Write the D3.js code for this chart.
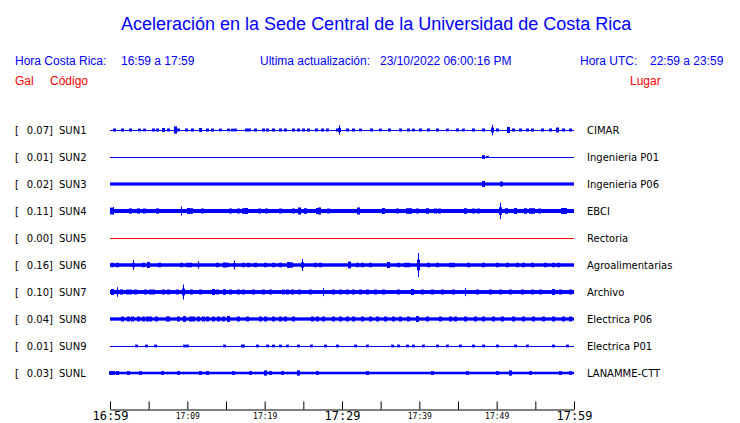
<!DOCTYPE html>
<html><head><meta charset="utf-8">
<script src="https://cdn.jsdelivr.net/npm/d3@7"></script>
<style>
html,body{margin:0;padding:0;background:#fff;}
svg{display:block;}
</style></head>
<body>
<svg id="chart" width="740" height="423"></svg>
<script>
// ---------- data ----------
const codes = ["SUN1","SUN2","SUN3","SUN4","SUN5","SUN6","SUN7","SUN8","SUN9","SUNL"];
const places = ["CIMAR","Ingenieria P01","Ingenieria P06","EBCI","Rectoria","Agroalimentarias","Archivo","Electrica P06","Electrica P01","LANAMME-CTT"];
const peakGal = [0.07,0.01,0.02,0.11,0.00,0.16,0.10,0.04,0.01,0.03];
// background noise half-amplitude (Gal) of each trace
const noiseGal = [0,0,0.021,0.027,0,0.023,0.026,0.022,0,0.017];
const tickMinutes = [0,5,10,15,20,25,30,35,40,45,50,55,60];
const tickLabels = ["16:59","","17:09","","17:19","","17:29","","17:39","","17:49","","17:59"];
const majorTicks = ["16:59","17:29","17:59"];

// bursts: [minutes after 16:59, half amplitude in Gal]
const burstsSUN1 = [[0.5,.02],[1.6,.02],[2.6,.02],[3.8,.018],[4.4,.018],[5.6,.02],[6.1,.02],[6.9,.027],[7.5,.02],[8.4,.048],[8.8,.02],[9.8,.02],[10.6,.02],[11.6,.027],[12.5,.02],[13.2,.02],[14.2,.018],[15.3,.018],[15.8,.018],[16.2,.018],[17.6,.02],[18.0,.02],[18.8,.02],[19.8,.02],[20.3,.02],[21.1,.02],[22.0,.02],[22.6,.02],[23.7,.02],[24.3,.02],[25.0,.02],[25.6,.02],[26.6,.02],[27.4,.02],[28.1,.02],[29.4,.02],[29.6,.062],[30.6,.02],[31.4,.02],[32.3,.018],[33.8,.02],[34.9,.018],[36.1,.02],[37.5,.02],[38.5,.02],[39.2,.018],[40.1,.02],[41.1,.02],[42.3,.02],[43.6,.018],[44.9,.02],[45.6,.018],[46.9,.02],[48.2,.02],[49.4,.07],[50.0,.02],[51.5,.04],[52.1,.02],[53.0,.02],[53.9,.02],[54.6,.02],[55.9,.02],[56.9,.02],[57.8,.033],[58.6,.02],[59.5,.02]];
const burstsSUN2 = [[48.2,.025],[48.7,.015]];
const burstsSUN3 = [[48.2,.04],[50.6,.033]];
const burstsSUN4 = [[0.1,.045],[0.4,.053],[2.6,.035],[3.6,.035],[4.4,.033],[6.1,.035],[9.2,.06],[10.1,.04],[10.5,.037],[11.9,.033],[15.5,.033],[16.6,.033],[17.2,.037],[17.6,.04],[19.3,.033],[20.2,.033],[22.0,.033],[23.7,.033],[24.4,.047],[25.2,.037],[26.8,.04],[27.0,.047],[28.2,.033],[32.1,.047],[35.3,.04],[37.1,.033],[38.4,.037],[38.8,.037],[39.7,.033],[41.0,.037],[42.0,.033],[42.5,.033],[45.9,.037],[46.9,.033],[47.6,.033],[50.4,.11],[51.2,.037],[52.4,.04],[53.7,.037],[54.3,.037],[54.7,.037],[55.5,.033],[58.5,.04],[58.8,.04]];
const burstsSUN5 = [];
const burstsSUN6 = [[0.3,.03],[0.9,.03],[3.0,.065],[4.3,.03],[4.9,.04],[6.3,.03],[9.2,.03],[10.0,.03],[10.3,.03],[11.4,.05],[13.8,.03],[14.7,.035],[15.1,.03],[16.0,.06],[17.2,.03],[17.8,.03],[18.8,.03],[20.0,.03],[21.1,.03],[22.0,.03],[23.0,.04],[23.4,.035],[24.8,.08],[26.5,.03],[27.2,.03],[30.9,.045],[31.9,.03],[32.6,.03],[33.6,.03],[35.9,.04],[37.2,.03],[38.1,.03],[38.5,.03],[39.8,.16],[41.1,.03],[42.3,.03],[44.0,.03],[44.4,.03],[46.3,.03],[48.2,.03],[50.0,.03],[51.3,.03],[52.6,.03],[53.4,.03],[54.6,.03],[56.3,.03],[57.3,.03],[57.9,.03]];
const burstsSUN7 = [[0.3,.04],[0.9,.065],[1.4,.035],[2.2,.033],[2.6,.033],[3.2,.033],[4.5,.033],[5.2,.033],[5.6,.033],[6.9,.033],[7.5,.033],[8.7,.033],[9.4,.1],[10.5,.033],[11.6,.033],[13.3,.04],[13.8,.033],[14.7,.037],[15.5,.033],[16.6,.033],[17.2,.033],[18.5,.033],[19.8,.033],[20.7,.033],[22.4,.033],[22.9,.033],[23.5,.033],[24.4,.033],[25.9,.033],[27.5,.055],[28.8,.033],[29.7,.033],[30.6,.033],[31.4,.033],[32.3,.033],[33.2,.033],[34.3,.033],[35.3,.033],[37.2,.033],[39.1,.04],[40.3,.033],[41.6,.033],[42.9,.033],[44.4,.033],[45.9,.055],[47.5,.033],[49.1,.033],[50.4,.033],[51.7,.033],[53.3,.033],[54.6,.033],[55.6,.033],[57.3,.04],[58.2,.033],[59.5,.033]];
const burstsSUN8 = [[1.6,.033],[2.3,.033],[2.8,.033],[3.6,.033],[4.3,.033],[4.8,.033],[5.2,.033],[5.9,.033],[7.4,.033],[7.5,.033],[8.8,.033],[9.6,.04],[10.3,.033],[10.7,.033],[11.4,.033],[12.0,.033],[12.5,.033],[13.3,.033],[14.0,.033],[14.6,.033],[15.3,.04],[16.6,.033],[17.7,.033],[19.4,.033],[20.0,.033],[21.1,.033],[22.0,.033],[22.6,.033],[23.7,.033],[26.1,.033],[26.8,.033],[27.5,.033],[28.8,.033],[29.7,.033],[30.6,.033],[31.4,.033],[32.6,.033],[33.6,.033],[34.5,.033],[35.6,.033],[36.6,.033],[37.5,.033],[38.5,.033],[39.7,.04],[41.0,.033],[42.7,.033],[44.0,.033],[44.6,.033],[45.9,.033],[47.2,.033],[48.2,.033],[49.5,.033],[50.7,.033],[52.1,.033],[53.4,.033],[54.7,.033],[56.0,.033],[57.3,.033],[58.6,.033],[59.5,.033]];
const burstsSUN9 = [[3.4,.018],[4.7,.018],[5.8,.018],[9.6,.018],[10.0,.018],[14.7,.018],[17.1,.018],[17.2,.018],[19.0,.018],[20.3,.018],[21.1,.018],[22.0,.018],[22.9,.018],[24.3,.018],[26.0,.018],[27.8,.018],[29.4,.018],[31.7,.018],[33.2,.018],[36.5,.018],[37.2,.018],[38.4,.018],[39.2,.018],[40.5,.018],[42.3,.018],[43.6,.018],[45.3,.018],[46.9,.018],[48.2,.018],[50.0,.018],[52.4,.018],[53.9,.018],[57.3,.018],[59.1,.018]];
const burstsSUNL = [[0.0,.025],[0.4,.025],[0.9,.025],[2.3,.025],[3.9,.025],[6.7,.025],[8.8,.025],[11.6,.025],[12.5,.025],[15.9,.025],[18.1,.025],[20.0,.035],[20.7,.025],[22.2,.025],[24.3,.035],[26.8,.025],[33.2,.025],[41.6,.025],[46.2,.025],[50.0,.025],[51.7,.035],[54.3,.025],[58.2,.025],[59.5,.025]];
const bursts = [burstsSUN1,burstsSUN2,burstsSUN3,burstsSUN4,burstsSUN5,burstsSUN6,burstsSUN7,burstsSUN8,burstsSUN9,burstsSUNL];

// ---------- drawing ----------
const BLUE = "#0000ff", RED = "#ff0000";
const svg = d3.select("#chart");
const x = d3.scaleLinear().domain([0,60]).range([110,574]);
const rowY = d3.scalePoint().domain(codes).range([130,373]);
const amp = d3.scaleLinear().domain([-0.16,0.16]).range([12,-12]);

const headFont = "'Liberation Sans', Arial, Helvetica, sans-serif";
const labFont = "'DejaVu Sans', Verdana, sans-serif";
const monoFont = "'DejaVu Sans Mono', monospace";

svg.append("text").attr("x",121).attr("y",30).attr("fill",BLUE)
  .attr("font-family",headFont).attr("font-size",18)
  .text("Aceleración en la Sede Central de la Universidad de Costa Rica");

const header = [
  {x:15,y:65,t:"Hora Costa Rica:",c:BLUE},
  {x:121,y:65,t:"16:59 a 17:59",c:BLUE},
  {x:260,y:65,t:"Ultima actualización:",c:BLUE},
  {x:380,y:65,t:"23/10/2022 06:00:16 PM",c:BLUE},
  {x:580,y:65,t:"Hora UTC:",c:BLUE},
  {x:650,y:65,t:"22:59 a 23:59",c:BLUE},
  {x:15,y:85,t:"Gal",c:RED},
  {x:50,y:85,t:"Código",c:RED},
  {x:630,y:85,t:"Lugar",c:RED}
];
svg.selectAll("text.head").data(header).join("text").attr("class","head")
  .attr("x",d=>d.x).attr("y",d=>d.y).attr("fill",d=>d.c)
  .attr("font-family",headFont).attr("font-size",12).text(d=>d.t);

codes.forEach((code,i)=>{
  const cy = rowY(code);
  const col = code==="SUN5" ? RED : BLUE;
  const g = svg.append("g").attr("transform",`translate(0,${cy})`);
  // labels
  g.append("text").attr("x",15).attr("y",4).attr("font-family",labFont).attr("font-size",10).attr("fill","#000").text("[");
  g.append("text").attr("x",53).attr("y",4).attr("text-anchor","end").attr("font-family",labFont).attr("font-size",10).attr("fill","#000").text(peakGal[i].toFixed(2)+"]");
  g.append("text").attr("x",59).attr("y",4).attr("font-family",labFont).attr("font-size",10).attr("fill","#000").text(code);
  g.append("text").attr("x",587).attr("y",4).attr("font-family",labFont).attr("font-size",10).attr("fill","#000").text(places[i]);
  // trace
  g.append("line").attr("x1",x(0)).attr("x2",x(60)).attr("y1",0.5).attr("y2",0.5)
    .attr("stroke",col).attr("stroke-width",1);
  if (noiseGal[i] > 0) {
    g.append("rect").attr("x",x(0)).attr("width",x(60)-x(0))
      .attr("y",amp(noiseGal[i])).attr("height",amp(-noiseGal[i])-amp(noiseGal[i]))
      .attr("fill",col);
  }
  const ev = bursts[i];
  g.selectAll("rect.b").data(ev).join("rect").attr("class","b")
    .attr("x",d=>Math.round(x(d[0]))-1).attr("width",3)
    .attr("y",d=>amp(d[1]>=0.05?d[1]*0.45:d[1]))
    .attr("height",d=>{const a=d[1]>=0.05?d[1]*0.45:d[1];return amp(-a)-amp(a);})
    .attr("fill",col);
  g.selectAll("line.s").data(ev.filter(d=>d[1]>=0.05)).join("line").attr("class","s")
    .attr("x1",d=>Math.round(x(d[0]))+0.5).attr("x2",d=>Math.round(x(d[0]))+0.5)
    .attr("y1",d=>amp(d[1])).attr("y2",d=>amp(-d[1]))
    .attr("stroke",col).attr("stroke-width",1);
});

// time axis
const axis = d3.axisBottom(x).tickValues(tickMinutes)
  .tickFormat((d,i)=>tickLabels[i]).tickSizeInner(-8).tickSizeOuter(0).tickPadding(2);
const ax = svg.append("g").attr("transform","translate(0,409.5)").call(axis);
ax.select(".domain").attr("stroke","#000");
ax.selectAll(".tick line").attr("stroke","#000");
ax.selectAll(".tick text").attr("fill","#000").attr("font-family",monoFont)
  .attr("font-size",d=>majorTicks.includes(tickLabels[tickMinutes.indexOf(d)])?12:8)
  .attr("dy",d=>majorTicks.includes(tickLabels[tickMinutes.indexOf(d)])?"0.72em":"0.9em");
</script>
</body></html>
